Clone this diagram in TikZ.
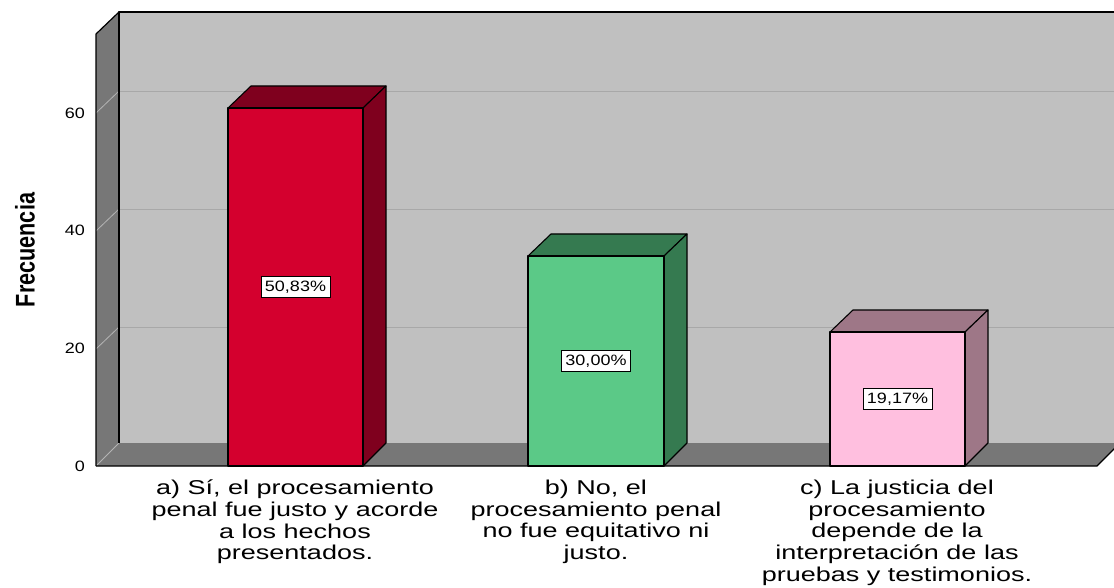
\documentclass[tikz,border=0pt]{standalone}
\usepackage{fontspec}
\newfontfamily\catfont[FakeStretch=1.35]{Liberation Sans}
\newfontfamily\numfont[FakeStretch=1.2]{Liberation Sans}
\newfontfamily\axfont[FakeStretch=0.8]{Liberation Sans Bold}
\definecolor{wallback}{HTML}{C0C0C0}
\definecolor{wallside}{HTML}{777777}
\definecolor{gridgray}{HTML}{A8A8A8}
\definecolor{sidegridgray}{HTML}{B4B4B4}
\definecolor{redfront}{HTML}{D4002E}
\definecolor{redside}{HTML}{7F001E}
\definecolor{greenfront}{HTML}{5BC987}
\definecolor{greenside}{HTML}{357A50}
\definecolor{pinkfront}{HTML}{FFBFDF}
\definecolor{pinkside}{HTML}{9E7787}
\begin{document}
\begin{tikzpicture}
[
    x=1pt, y=-1pt,
    frameline/.style={draw=black, line width=1.2pt, line join=round},
    gridline/.style={draw=gridgray, line width=0.9pt},
    sidegrid/.style={draw=sidegridgray, line width=0.8pt},
    barface/.style={draw=black, line width=1.1pt, line join=round},
    pctbox/.style={draw=black, fill=white, line width=0.8pt, inner xsep=4pt, inner ysep=0pt, minimum height=21pt, font=\numfont\fontsize{15}{15}\selectfont},
    ticklabel/.style={anchor=east, inner sep=0pt, font=\numfont\fontsize{15}{15}\selectfont},
    category/.style={anchor=north, align=center, inner sep=0pt, font=\catfont\fontsize{20}{21.6}\selectfont},
]
\useasboundingbox (0,0) rectangle (1114,588);
\begin{scope}
\clip (0,0) rectangle (1114,588);
% walls and floor
\fill[wallback] (119,12) rectangle (1130,443);
\fill[wallside] (96,34) -- (119,12) -- (119,443) -- (96,466) -- cycle;
\fill[wallside] (96,466) -- (119,443) -- (1120,443) -- (1097,466) -- cycle;
\foreach \y in {91,209,327} {
    \draw[gridline] (119,\y) -- (1130,\y);
    \draw[sidegrid] (96,\y+22) -- (119,\y);
}
\draw[sidegrid] (96,466) -- (119,443);
\draw[frameline] (119,443) -- (119,12) -- (1130,12);
\draw[frameline] (96,466) -- (96,34) -- (119,12);
\draw[frameline] (96,466) -- (1097,466) -- (1120,443);
% bars
\foreach \xa/\xb/\yt/\cf/\cs/\pct [count=\i] in {228/363/108/redfront/redside/{50,83\%},
    528/664/256/greenfront/greenside/{30,00\%},
    830/965/332/pinkfront/pinkside/{19,17\%}} {
    \filldraw[barface, fill=\cs] (\xa,\yt) -- (\xa+23,\yt-22) -- (\xb+23,\yt-22) -- (\xb,\yt) -- cycle;
    \filldraw[barface, fill=\cs] (\xb,\yt) -- (\xb+23,\yt-22) -- (\xb+23,443) -- (\xb,466) -- cycle;
    \filldraw[barface, fill=\cf] (\xa,\yt) rectangle (\xb,466);
    \node[pctbox] (pct\i) at ({(\xa+\xb)/2},{(\yt+466)/2}) {\pct};
}
\end{scope}
% axis
\foreach \v/\y in {0/466,20/348,40/230,60/113}
    \node[ticklabel] (tick\v) at (85,\y) {\v};
\node[rotate=90, inner sep=0pt, font=\axfont\fontsize{27}{27}\selectfont] (ylab) at (25,250) {Frecuencia};
% categories
\node[category] (cat1) at (295,480) {a) Sí, el procesamiento\\penal fue justo y acorde\\a los hechos\\presentados.};
\node[category] (cat2) at (596,480) {b) No, el\\procesamiento penal\\no fue equitativo ni\\justo.};
\node[category] (cat3) at (897,480) {c) La justicia del\\procesamiento\\depende de la\\interpretación de las\\pruebas y testimonios.};
\end{tikzpicture}
\end{document}
